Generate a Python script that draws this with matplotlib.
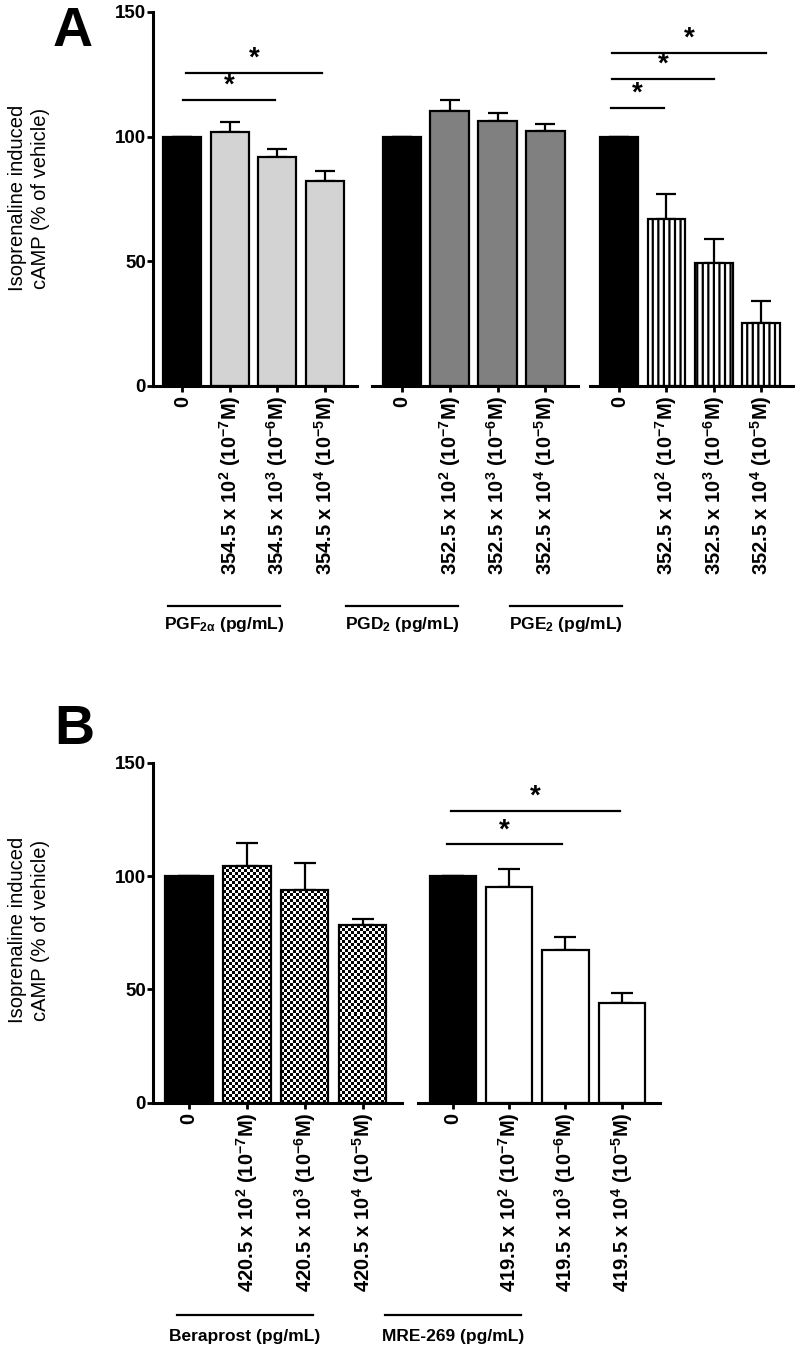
import numpy as np
import matplotlib
matplotlib.use("Agg")
import matplotlib.pyplot as plt
from matplotlib.lines import Line2D

plt.rcParams['font.family'] = ['Liberation Sans', 'DejaVu Sans']
plt.rcParams['mathtext.fontset'] = 'custom'
plt.rcParams['mathtext.rm'] = 'Liberation Sans:bold'
plt.rcParams['mathtext.bf'] = 'Liberation Sans:bold'
plt.rcParams['mathtext.it'] = 'Liberation Sans:bold:italic'
plt.rcParams['mathtext.default'] = 'rm'
plt.rcParams['hatch.linewidth'] = 1.6

W, H = 799, 1353

# ---- data ----
pgf_vals = [100, 101.7, 91.7, 82.4]
pgf_err = [0, 4.0, 3.3, 4.0]
pgd_vals = [100, 110.4, 106.1, 102.4]
pgd_err = [0, 4.3, 3.4, 2.7]
pge_vals = [100, 67.1, 49.5, 25.1]
pge_err = [0, 10.0, 9.6, 9.0]
bera_vals = [100, 104.5, 93.8, 78.4]
bera_err = [0, 9.9, 11.8, 2.6]
mre_vals = [100, 95.3, 67.4, 43.8]
mre_err = [0, 7.8, 5.6, 4.5]

pgf_labels = ["0", r"354.5 x 10$^{2}$ (10$^{-7}$M)", r"354.5 x 10$^{3}$ (10$^{-6}$M)", r"354.5 x 10$^{4}$ (10$^{-5}$M)"]
pgd_labels = ["0", r"352.5 x 10$^{2}$ (10$^{-7}$M)", r"352.5 x 10$^{3}$ (10$^{-6}$M)", r"352.5 x 10$^{4}$ (10$^{-5}$M)"]
pge_labels = ["0", r"352.5 x 10$^{2}$ (10$^{-7}$M)", r"352.5 x 10$^{3}$ (10$^{-6}$M)", r"352.5 x 10$^{4}$ (10$^{-5}$M)"]
bera_labels = ["0", r"420.5 x 10$^{2}$ (10$^{-7}$M)", r"420.5 x 10$^{3}$ (10$^{-6}$M)", r"420.5 x 10$^{4}$ (10$^{-5}$M)"]
mre_labels = ["0", r"419.5 x 10$^{2}$ (10$^{-7}$M)", r"419.5 x 10$^{3}$ (10$^{-6}$M)", r"419.5 x 10$^{4}$ (10$^{-5}$M)"]

group_names_a = [r"PGF$_{2α}$ (pg/mL)", r"PGD$_{2}$ (pg/mL)", r"PGE$_{2}$ (pg/mL)"]
group_names_b = ["Beraprost (pg/mL)", "MRE-269 (pg/mL)"]

# significance bars: (x start, x end, height) in bar-index units
sig_pgf = [(0.02, 1.95, 114.7), (0.08, 2.94, 125.4)]
sig_pge = [(-0.17, 0.95, 111.6), (-0.15, 2.0, 123.1), (-0.15, 3.1, 133.5)]
sig_mre = [(-0.1, 1.94, 114.0), (-0.04, 2.97, 128.7)]

yticks = [0, 50, 100, 150]


def px_axes(x0, y0, x1, y1):
    return fig.add_axes([x0 / W, 1 - y1 / H, (x1 - x0) / W, (y1 - y0) / H])


def checker_fill(ax, patch, cell=3):
    x0, y0 = patch.get_x(), patch.get_y()
    w, h = patch.get_width(), patch.get_height()
    (p0x, p0y), (p1x, p1y) = ax.transData.transform([(x0, y0), (x0 + w, y0 + h)])
    nx = max(1, int(round((p1x - p0x) / cell)))
    ny = max(1, int(round((p1y - p0y) / cell)))
    board = np.indices((ny, nx)).sum(axis=0) % 2
    im = ax.imshow(board, cmap='gray', extent=(x0, x0 + w, y0, y0 + h),
                   interpolation='nearest', aspect='auto', zorder=1.5)
    im.set_clip_path(patch)


def draw_group(ax, vals, errs, labels, color, first, width, capsize, hatch=None, checker=False):
    x = np.arange(len(vals))
    ax.errorbar(x, vals, yerr=[np.zeros(len(errs)), errs], fmt='none', ecolor='black',
                elinewidth=1.6, capsize=capsize, capthick=1.6, zorder=1)
    colors = ['black'] + [color] * (len(vals) - 1)
    if checker:
        colors = ['black'] + ['none'] * (len(vals) - 1)
    bars = ax.bar(x, vals, width=width, color=colors, edgecolor='black', linewidth=1.6, zorder=2)
    if hatch:
        for b in bars[1:]:
            b.set_hatch(hatch)
    ax.set_xlim(-0.62, 3.68)
    ax.set_ylim(0, 150)
    if checker:
        for b in bars[1:]:
            checker_fill(ax, b)
        ax.set_xlim(-0.62, 3.68)
        ax.set_ylim(0, 150)
    for s in ['top', 'right']:
        ax.spines[s].set_visible(False)
    ax.spines['bottom'].set_linewidth(2.2)
    ax.spines['left'].set_linewidth(2.2)
    ax.set_xticks(x)
    ax.set_xticklabels(labels, rotation=90, fontsize=14.5, fontweight='bold', va='top', ha='center')
    ax.tick_params(axis='x', length=4.5, width=2, pad=2.5, direction='out')
    if first:
        ax.set_yticks(yticks)
        ax.set_yticklabels([str(t) for t in yticks], fontsize=13.5, fontweight='bold')
        ax.tick_params(axis='y', length=4, width=2, pad=1, direction='out')
    else:
        ax.spines['left'].set_visible(False)
        ax.set_yticks([])
    ax.patch.set_alpha(0)


def draw_sig(ax, sigs):
    for xs, xe, y in sigs:
        ax.plot([xs, xe], [y, y], color='black', lw=1.6, clip_on=False)
        ax.text((xs + xe) / 2, y + 0.5, "*", ha='center', va='bottom', fontsize=20,
                fontweight='bold', clip_on=False)


def group_label(x0, x1, y_line, y_text, text):
    fig.add_artist(Line2D([x0 / W, x1 / W], [1 - y_line / H, 1 - y_line / H], color='black', lw=1.6))
    fig.text((x0 + x1) / 2 / W, 1 - y_text / H, text, ha='center', va='center',
             fontsize=12.5, fontweight='bold')


fig = plt.figure(figsize=(W / 100, H / 100), dpi=100)

# ---- panel A ----
a1 = px_axes(153, 12, 357, 386)
a2 = px_axes(372, 12, 578, 386)
a3 = px_axes(590, 12, 793, 386)
draw_group(a1, pgf_vals, pgf_err, pgf_labels, '#d3d3d3', True, 0.8, 7)
draw_group(a2, pgd_vals, pgd_err, pgd_labels, '#808080', False, 0.8, 7)
draw_group(a3, pge_vals, pge_err, pge_labels, 'white', False, 0.8, 7, hatch='|||')
draw_sig(a1, sig_pgf)
draw_sig(a3, sig_pge)
group_label(168, 280, 606, 625, group_names_a[0])
group_label(346, 458, 606, 625, group_names_a[1])
group_label(510, 622, 606, 625, group_names_a[2])

# ---- panel B ----
b1 = px_axes(153, 762.7, 402, 1102.7)
b2 = px_axes(418, 762.7, 660, 1102.7)
draw_group(b1, bera_vals, bera_err, bera_labels, 'white', True, 0.82, 8, checker=True)
draw_group(b2, mre_vals, mre_err, mre_labels, 'white', False, 0.82, 8)
draw_sig(b2, sig_mre)
group_label(177, 313, 1315, 1337, group_names_b[0])
group_label(385, 521, 1315, 1337, group_names_b[1])

ylab = "Isoprenaline induced\ncAMP (% of vehicle)"
fig.text(29 / W, 1 - 198 / H, ylab, rotation=90, ha='center', va='center', fontsize=14.5,
         multialignment='center', linespacing=1.25)
fig.text(29 / W, 1 - 930 / H, ylab, rotation=90, ha='center', va='center', fontsize=14.5,
         multialignment='center', linespacing=1.25)

fig.text(73 / W, 1 - 32 / H, "A", ha='center', va='center', fontsize=40, fontweight='bold')
fig.text(74 / W, 1 - 730 / H, "B", ha='center', va='center', fontsize=40, fontweight='bold')

fig.savefig("out.png", dpi=100)
